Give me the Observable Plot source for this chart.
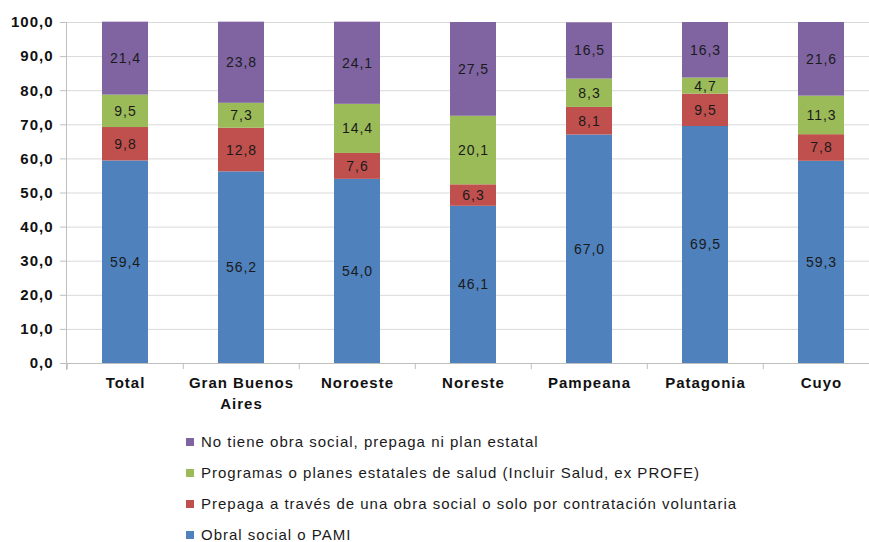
<!DOCTYPE html>
<html>
<head>
<meta charset="utf-8">
<script src="https://cdn.jsdelivr.net/npm/d3@7"></script>
<script src="https://cdn.jsdelivr.net/npm/@observablehq/plot@0.6"></script>
<style>
  html, body { margin: 0; padding: 0; background: #fff; }
  body { width: 869px; height: 542px; overflow: hidden; font-family: "Liberation Sans", Arial, sans-serif; position: relative; }
  #chart svg text { letter-spacing: 1px; }
  #legend { position: absolute; left: 186px; top: 435px; }
  .item { display: flex; align-items: center; height: 14px; line-height: 14px; margin-bottom: 17px; font-size: 15px; letter-spacing: 1px; color: #1a1a1a; }
  .item:last-child { margin-bottom: 0; }
  .sw { width: 8px; height: 8px; margin-right: 7px; flex: none; }
</style>
</head>
<body>
<div id="chart"></div>
<div id="legend"></div>
<script>
const categories = ["Total", "Gran Buenos Aires", "Noroeste", "Noreste", "Pampeana", "Patagonia", "Cuyo"];
const categoryLabels = ["Total", "Gran Buenos\nAires", "Noroeste", "Noreste", "Pampeana", "Patagonia", "Cuyo"];
const seriesNames = [
  "Obral social o PAMI",
  "Prepaga a través de una obra social o solo por contratación voluntaria",
  "Programas o planes estatales de salud (Incluir Salud, ex PROFE)",
  "No tiene obra social, prepaga ni plan estatal"
];
const seriesColors = ["#4F81BD", "#C0504D", "#9BBB59", "#8064A2"];
const obraSocial   = [59.4, 56.2, 54.0, 46.1, 67.0, 69.5, 59.3];
const prepaga      = [9.8, 12.8, 7.6, 6.3, 8.1, 9.5, 7.8];
const programas    = [9.5, 7.3, 14.4, 20.1, 8.3, 4.7, 11.3];
const noTiene      = [21.4, 23.8, 24.1, 27.5, 16.5, 16.3, 21.6];
const yTicks = [0, 10, 20, 30, 40, 50, 60, 70, 80, 90, 100];

const seriesValues = [obraSocial, prepaga, programas, noTiene];
const data = [];
seriesNames.forEach((s, i) => {
  categories.forEach((c, j) => data.push({category: c, series: s, value: seriesValues[i][j]}));
});
const fmt = v => v.toFixed(1).replace(".", ",");
const labelOf = new Map(categories.map((c, i) => [c, categoryLabels[i]]));
const font = "'Liberation Sans', Arial, sans-serif";

const chart = Plot.plot({
  width: 869,
  height: 415,
  marginLeft: 66,
  marginRight: 0,
  marginTop: 22,
  marginBottom: 52,
  style: {fontFamily: font, background: "#fff"},
  x: {domain: categories, range: [66, 881], paddingInner: 0.6, paddingOuter: 0.3, axis: null},
  y: {domain: [0, 100], axis: null},
  color: {domain: seriesNames, range: seriesColors},
  marks: [
    Plot.ruleY(yTicks.slice(1), {stroke: "#d9d9d9", strokeWidth: 1}),
    Plot.barY(data, {x: "category", y: "value", fill: "series", order: seriesNames}),
    Plot.text(data, Plot.stackY({x: "category", y: "value", z: "series", order: seriesNames,
      text: d => fmt(d.value), fill: "#1a1a1a", fontSize: 14})),
    Plot.ruleY([0], {stroke: "#bfbfbf", strokeWidth: 1}),
    Plot.frame({anchor: "left", stroke: "#bfbfbf", insetBottom: -6}),
    Plot.ruleX(categories, {x: d => d, dx: -58.2, y1: 0, y2: -1.8, stroke: "#bfbfbf"}),
    Plot.axisY(yTicks, {tickFormat: fmt, tickSize: 6, tickPadding: 7, stroke: "#bfbfbf",
      fontSize: 15, fontWeight: "bold", fill: "#111", label: null}),
    Plot.text(categories, {x: d => d, text: d => labelOf.get(d), frameAnchor: "bottom",
      lineAnchor: "top", dy: 10, lineHeight: 1.38, fontSize: 15, fontWeight: "bold", fill: "#111"})
  ]
});
document.getElementById("chart").appendChild(chart);

const legend = document.getElementById("legend");
for (let i = seriesNames.length - 1; i >= 0; i--) {
  const item = document.createElement("div");
  item.className = "item";
  const sw = document.createElement("span");
  sw.className = "sw";
  sw.style.background = seriesColors[i];
  const t = document.createElement("span");
  t.textContent = seriesNames[i];
  item.appendChild(sw);
  item.appendChild(t);
  legend.appendChild(item);
}
</script>
</body>
</html>
